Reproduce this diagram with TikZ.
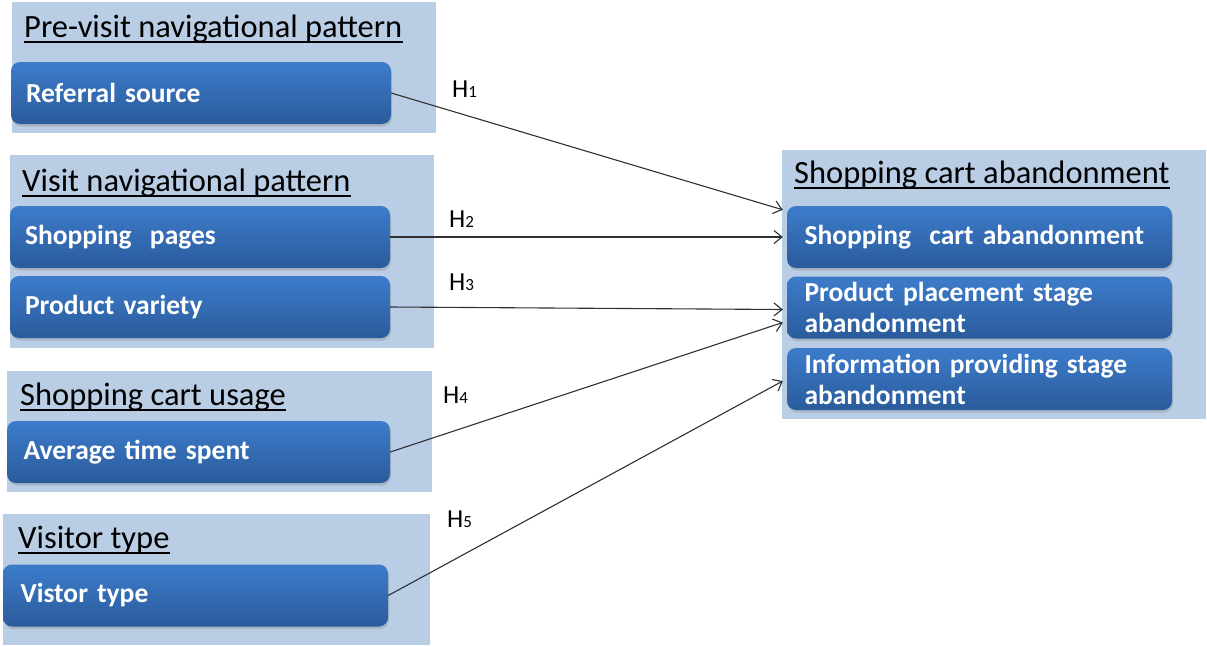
\documentclass[tikz,border=0pt]{standalone}
\usepackage{fontspec}
\setmainfont{Carlito}
\usetikzlibrary{arrows.meta}
\usetikzlibrary{shadows}

\definecolor{panelblue}{HTML}{B9CDE5}
\definecolor{boxtop}{HTML}{3D7CCB}
\definecolor{boxbottom}{HTML}{2A5B9B}
\definecolor{linegray}{HTML}{303030}

% hypothesis label: big H, small index
\newcommand{\hypname}[1]{H{\fontsize{17}{19}\selectfont #1}}

\begin{document}
\begin{tikzpicture}[x=1pt, y=-1pt,
        panel/.style={fill=panelblue},
        factor/.style={rounded corners=9pt, top color=boxtop, bottom color=boxbottom,
            drop shadow={opacity=0.3, shadow xshift=1pt, shadow yshift=-2.5pt},
            text=white, font=\fontsize{27.5}{31}\selectfont\bfseries,
            minimum height=62pt, inner xsep=15pt, inner ysep=0pt,
            text width=350pt, align=left},
        heading/.style={anchor=base west, inner sep=0pt, font=\fontsize{32.5}{38}\selectfont},
        hlabel/.style={anchor=base west, inner sep=0pt, font=\fontsize{26}{30}\selectfont},
        hyp/.style={-{Straight Barb[length=8pt, width=13pt]}, draw=linegray, line width=1.1pt}]
        \useasboundingbox (0,0) rectangle (1207,645);

        % group panels
        \fill[panel] (12,2) rectangle (436,133);
        \fill[panel] (10,155) rectangle (434,348);
        \fill[panel] (7,371) rectangle (432,492);
        \fill[panel] (3,514) rectangle (430,645);
        \fill[panel] (782,150) rectangle (1206,419);

        \node[heading] (previsit) at (24,37) {Pre-visit navigational pattern};
        \node[heading] (visit) at (22,191) {Visit navigational pattern};
        \node[heading] (usage) at (20,405) {Shopping cart usage};
        \node[heading] (visitor) at (18,548) {Visitor type};
        \node[heading] (outcome) at (794,183) {Shopping cart abandonment};

        \foreach \h in {previsit, visit, usage, visitor, outcome}
            \draw[line width=1.6pt] ([yshift=-5pt]\h.base west) -- ([yshift=-5pt]\h.base east);

        % factors
        \node[factor, minimum width=378pt] (referral) at (201,93) {Referral source};
        \node[factor, minimum width=380pt] (pages) at (200,237) {Shopping~~pages};
        \node[factor, minimum width=380pt] (variety) at (200,307) {Product variety};
        \node[factor, minimum width=383pt] (avgtime) at (198.5,452) {Average time spent};
        \node[factor, minimum width=385pt] (vistor) at (195.5,595.5) {Vistor type};

        \node[factor, minimum width=385pt] (cart) at (979.5,237) {Shopping~~cart abandonment};
        \node[factor, minimum width=385pt] (placement) at (979.5,307.5) {Product placement stage\\abandonment};
        \node[factor, minimum width=385pt] (info) at (979.5,379) {Information providing stage\\abandonment};

        \node[hlabel] (h1) at (452,97) {\hypname{1}};
        \node[hlabel] (h2) at (449,227) {\hypname{2}};
        \node[hlabel] (h3) at (449,290) {\hypname{3}};
        \node[hlabel] (h4) at (443,403) {\hypname{4}};
        \node[hlabel] (h5) at (447,527) {\hypname{5}};

        \draw[hyp] (referral.east) -- ([shift={(-4,4)}]cart.north west);
        \draw[hyp] (pages.east) -- ([xshift=-4pt]cart.west);
        \draw[hyp] (variety.east) -- ([shift={(-4,2)}]placement.west);
        \draw[hyp] (avgtime.east) -- ([shift={(-4,15)}]placement.west);
        \draw[hyp] (vistor.east) -- ([shift={(-4,2)}]info.west);
    \end{tikzpicture}
\end{document}
